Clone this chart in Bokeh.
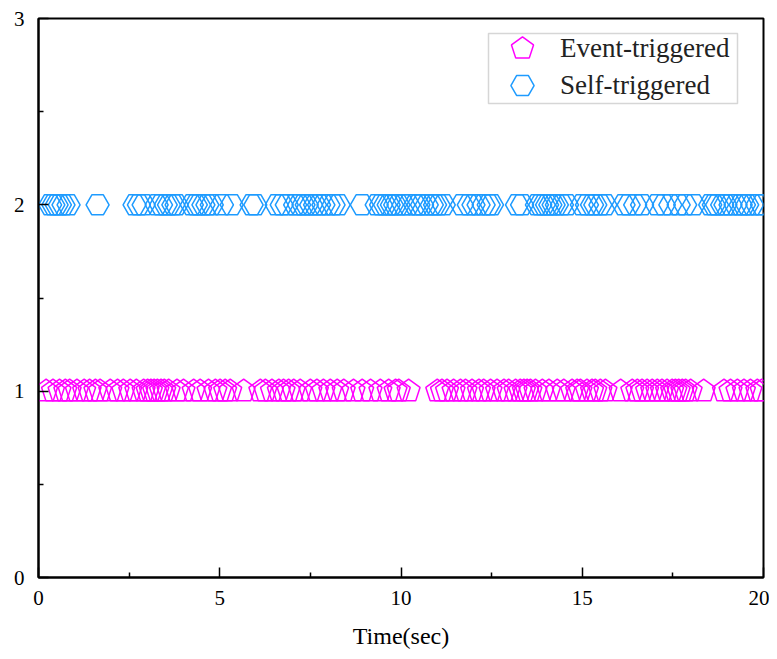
from bokeh.plotting import figure
from bokeh.models import FixedTicker, Legend, LegendItem, Range1d, BoxAnnotation
from bokeh.embed import file_html
from bokeh.resources import INLINE

# Trigger instants (sec)
event_times = [0.21, 0.40, 0.58, 0.74, 0.86, 1.06, 1.26, 1.41, 1.57, 1.70, 1.98, 2.18, 2.34,
               2.53, 2.70, 2.90, 3.01, 3.10, 3.19, 3.28, 3.38, 3.47, 3.59, 3.82, 4.00, 4.28,
               4.46, 4.69, 4.88, 5.01, 5.15, 5.29, 5.66, 6.12, 6.26, 6.44, 6.63, 6.76, 6.90,
               7.04, 7.22, 7.50, 7.68, 7.86, 8.05, 8.24, 8.42, 8.69, 8.93, 9.16, 9.43, 9.66,
               9.85, 9.94, 10.21, 11.00, 11.13, 11.27, 11.45, 11.64, 11.78, 11.96, 12.15,
               12.28, 12.47, 12.65, 12.84, 12.97, 13.16, 13.29, 13.39, 13.48, 13.57, 13.71,
               13.90, 14.08, 14.31, 14.49, 14.72, 14.86, 14.95, 15.13, 15.27, 15.36, 15.50,
               15.64, 16.06, 16.38, 16.52, 16.65, 16.79, 16.93, 17.07, 17.20, 17.34, 17.48,
               17.57, 17.66, 17.76, 17.85, 17.99, 18.35, 18.91, 19.09, 19.28, 19.46, 19.64,
               19.83, 19.95]
self_times = [0.32, 0.41, 0.50, 0.59, 0.69, 0.83, 1.63, 2.65, 2.77, 2.90, 3.26, 3.38, 3.51,
              3.60, 3.72, 3.81, 4.23, 4.34, 4.43, 4.55, 4.66, 4.78, 5.06, 5.33, 5.88, 5.98,
              6.57, 6.71, 6.85, 7.08, 7.19, 7.31, 7.40, 7.52, 7.63, 7.74, 7.86, 8.00, 8.14,
              8.28, 8.92, 9.33, 9.45, 9.56, 9.66, 9.75, 9.84, 9.93, 10.07, 10.21, 10.39,
              10.48, 10.58, 10.71, 10.85, 10.94, 11.04, 11.18, 11.68, 11.87, 12.00, 12.14,
              12.28, 12.42, 12.51, 13.20, 13.34, 13.75, 13.84, 13.94, 14.03, 14.12, 14.21,
              14.30, 14.44, 14.58, 14.99, 15.13, 15.27, 15.36, 15.50, 15.64, 16.14, 16.28,
              16.46, 16.65, 17.06, 17.25, 17.43, 17.66, 17.84, 18.08, 18.53, 18.63, 18.72,
              18.86, 18.95, 19.09, 19.23, 19.37, 19.46, 19.55, 19.69, 19.83, 19.96]
event_level = 1
self_level = 2
x_ticks = [0, 5, 10, 15, 20]
x_minor = [2.5, 7.5, 12.5, 17.5]
y_ticks = [0, 1, 2, 3]
y_minor = [0.5, 1.5, 2.5]
labels = ["Event-triggered", "Self-triggered"]
x_title = "Time(sec)"

MAG = "#ff00ff"
BLUE = "#1e9bff"
FONT = "Liberation Serif"

FW, FH = 725, 559
X0, X1, Y0, Y1 = 0, 20, 0, 3

p = figure(frame_width=FW, frame_height=FH, output_backend="svg", toolbar_location=None,
           x_range=Range1d(X0, X1), y_range=Range1d(Y0, Y1),
           min_border_left=38, min_border_top=18, min_border_right=6, min_border_bottom=60)
p.background_fill_color = "white"
p.border_fill_color = "white"
p.grid.visible = False
p.outline_line_color = "black"
p.outline_line_width = 2

r_ev = p.ngon(x=event_times, y=[event_level] * len(event_times), radius=12,
              radius_units="screen", n=5, angle=0,
              fill_color=None, line_color=MAG, line_width=1.5)
r_self = p.scatter(x=self_times, y=[self_level] * len(self_times), marker="hex", size=23,
                   fill_color=None, line_color=BLUE, line_width=1.5)

for ax in (p.xaxis[0], p.yaxis[0]):
    ax.axis_line_width = 2
    ax.major_tick_in = 10
    ax.major_tick_out = 0
    ax.minor_tick_in = 5
    ax.minor_tick_out = 0
    ax.major_tick_line_width = 1.5
    ax.minor_tick_line_width = 1.5
    ax.major_label_text_font = FONT
    ax.major_label_text_font_size = "21px"
    ax.major_label_text_color = "black"
    ax.axis_label_text_font = FONT
    ax.axis_label_text_font_style = "normal"
    ax.axis_label_text_color = "black"

p.xaxis[0].ticker = FixedTicker(ticks=x_ticks, minor_ticks=x_minor)
p.yaxis[0].ticker = FixedTicker(ticks=y_ticks, minor_ticks=y_minor)
p.xaxis[0].axis_label = x_title
p.xaxis[0].axis_label_text_font_size = "24px"
p.xaxis[0].major_label_standoff = 13
p.xaxis[0].axis_label_standoff = 15
p.yaxis[0].major_label_standoff = 14


def px_to_x(px):
    return X0 + (px - 38) * (X1 - X0) / FW


def py_to_y(py):
    return Y0 + (18 + FH - py) * (Y1 - Y0) / FH


# legend frame (pixel layout -> data space)
box = BoxAnnotation(left=px_to_x(488), right=px_to_x(737), top=py_to_y(33), bottom=py_to_y(103),
                    fill_color="white", fill_alpha=1, line_color="#777777", line_width=1.5,
                    level="annotation")
p.add_layout(box)

rows = [(r_ev, labels[0], 48), (r_self, labels[1], 85)]
for rend, lab, cy in rows:
    lg = Legend(items=[LegendItem(label=lab, renderers=[rend])],
                location=(493 - 38, 18 + FH - (cy + 29)))
    lg.label_text_font = FONT
    lg.label_text_font_size = "27px"
    lg.label_text_color = "#222222"
    lg.glyph_width = 58
    lg.glyph_height = 58
    lg.label_height = 30
    lg.label_standoff = 9
    lg.padding = 0
    lg.spacing = 0
    lg.margin = 0
    lg.border_line_alpha = 0
    lg.background_fill_alpha = 0
    p.add_layout(lg)

open("out.html", "w").write(file_html(p, INLINE))
